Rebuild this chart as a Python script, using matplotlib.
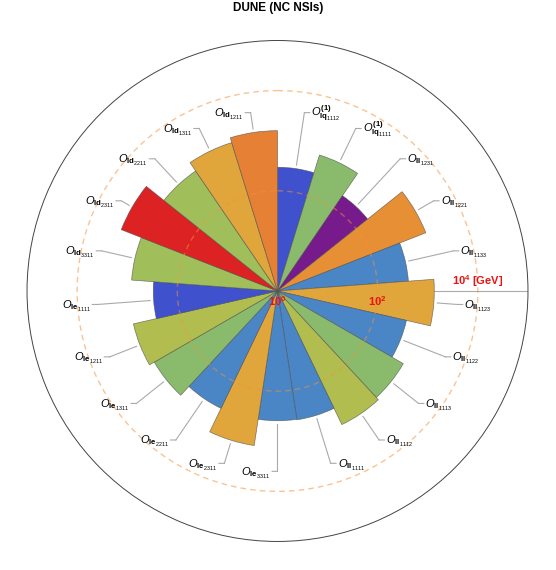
import numpy as np
import matplotlib
matplotlib.use("Agg")
import matplotlib.pyplot as plt

plt.rcParams["font.family"] = ["Liberation Sans", "DejaVu Sans"]
plt.rcParams["mathtext.fontset"] = "custom"
plt.rcParams["mathtext.rm"] = "Liberation Sans"
plt.rcParams["mathtext.it"] = "Liberation Sans:italic"
plt.rcParams["mathtext.bf"] = "Liberation Sans:bold"

# operators, clockwise from the top
groups = ["lq", "lq", "ll", "ll", "ll", "ll", "ll", "ll", "ll", "ll",
          "le", "le", "le", "le", "le", "le", "ld", "ld", "ld", "ld", "ld"]
indices = ["1112", "1111", "1231", "1221", "1133", "1123", "1122", "1113", "1112", "1111",
           "3311", "2311", "2211", "1311", "1211", "1111", "3311", "2311", "2211", "1311", "1211"]
# scale reach in GeV (log radial axis, 10^0 at centre)
energy_gev = [295, 692, 200, 1514, 417, 1349, 437, 794, 912, 398,
              389, 1318, 398, 692, 891, 302, 832, 2239, 794, 1259, 1585]
colors = ["#3F51CC", "#8ABB6C", "#761A8C", "#E78F35", "#4A86C5", "#E0A53B", "#4A86C5",
          "#8ABB6C", "#B1BD4E", "#4A86C5", "#4A86C5", "#E0A53B", "#4A86C5", "#8ABB6C",
          "#B1BD4E", "#3F51CC", "#A0BF5B", "#DC2222", "#A0BF5B", "#E0A53B", "#E68034"]

n = len(energy_gev)
w = 2 * np.pi / n
theta = np.arange(n) * w
r = np.log10(energy_gev)

fig = plt.figure(figsize=(5.56, 5.70), dpi=100)
ax = fig.add_axes([0.0486, 0.05, 0.901, 0.879], projection="polar")
ax.set_theta_zero_location("N")
ax.set_theta_direction(-1)
ax.set_ylim(0, 5)

ax.plot([np.pi / 2] * 2, [0, 5], color="#AAAAAA", lw=0.8, zorder=1)
ax.bar(theta, r, width=w, align="edge", color=colors,
       edgecolor=(0.3, 0.3, 0.3, 0.7), linewidth=0.5, zorder=2)

tt = np.linspace(0, 2 * np.pi, 500)
ax.plot(tt, np.full_like(tt, 2), ls=(0, (4, 3)), color="#F7923A", alpha=0.5, lw=1, zorder=3)
ax.plot(tt, np.full_like(tt, 4), ls=(0, (4, 3)), color="#F7923A", alpha=0.55, lw=1, zorder=3)

ax.grid(False)
ax.set_xticks([])
ax.set_yticks([])
ax.spines["polar"].set_color("#444444")
ax.spines["polar"].set_linewidth(0.7)

gray = "#AAAAAA"
for i in range(n):
    mid = theta[i] + w / 2
    if groups[i] == "lq":
        lab = r"$O^{\mathbf{(1)}}_{\mathbf{%s}_{%s}}$" % (groups[i], indices[i])
    else:
        lab = r"$O_{\mathbf{%s}_{%s}}$" % (groups[i], indices[i])
    ax.plot([mid, mid], [r[i] + 0.07, 3.6], color=gray, lw=0.8, zorder=1)
    right = np.degrees(mid) < 179.9
    s = 1 if right else -1
    ax.annotate("", xy=(mid, 3.6), xytext=(s * 4, 0), textcoords="offset points",
                arrowprops=dict(arrowstyle="-", color=gray, lw=0.8, shrinkA=0, shrinkB=0))
    ax.annotate(lab, xy=(mid, 3.6), xytext=(s * 5, -3), textcoords="offset points",
                ha="left" if right else "right", va="baseline", fontsize=8)

red = "#EE1111"
ax.annotate(r"$\mathbf{10^0}$", xy=(0, 0), xytext=(0, -7), textcoords="offset points",
            ha="center", va="center", color=red, fontsize=8)
ax.annotate(r"$\mathbf{10^2}$", xy=(np.pi / 2, 2), xytext=(0, -7), textcoords="offset points",
            ha="center", va="center", color=red, fontsize=8)
ax.annotate(r"$\mathbf{10^4}$ [GeV]", xy=(np.pi / 2, 4), xytext=(0, 7), textcoords="offset points",
            ha="center", va="center", color=red, fontsize=8, fontweight="bold")

fig.text(0.5, 1 - 8 / 570, "DUNE (NC NSIs)", ha="center", va="center",
         fontsize=8.5, fontweight="bold")

fig.savefig("out.png", dpi=100)
